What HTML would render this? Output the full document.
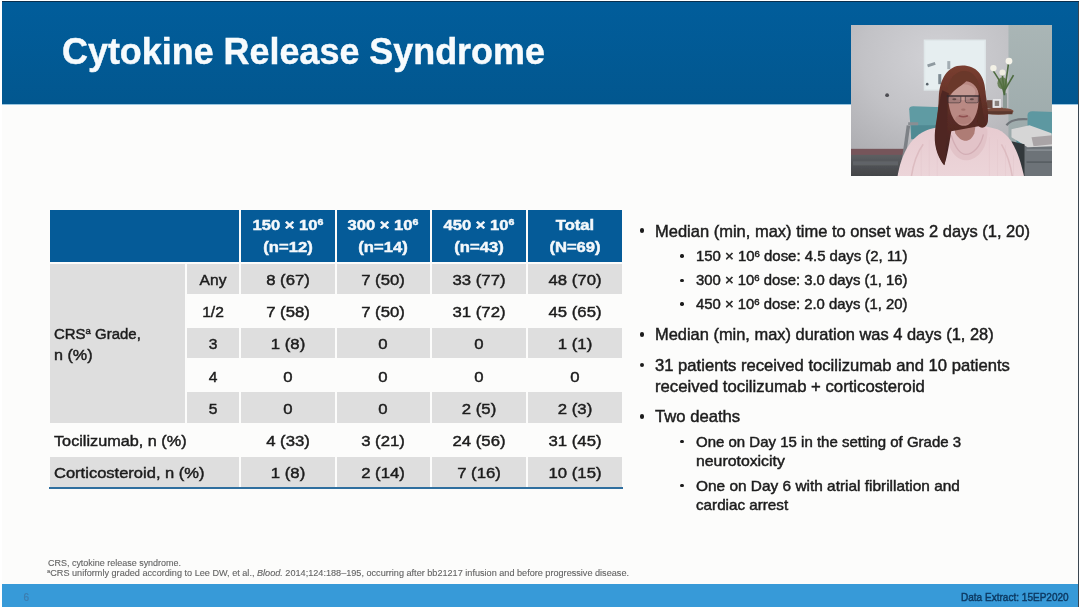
<!DOCTYPE html>
<html lang="en"><head><meta charset="utf-8"><title>Cytokine Release Syndrome</title>
<style>
html,body{margin:0;padding:0;background:#fff;}
body{width:1080px;height:608px;position:relative;overflow:hidden;font-family:"Liberation Sans",sans-serif;}
#slide{position:absolute;left:2px;top:2px;width:1076.5px;height:604.4px;background:#fcfcfb;overflow:hidden;}
#edgeR{position:absolute;left:1077.6px;top:1.5px;width:1.2px;height:605px;background:#3b4650;}
#edgeT{position:absolute;left:2px;top:1.3px;width:1076.5px;height:1.2px;background:#0a2f4d;}
#hdr{position:absolute;left:2px;top:2px;width:1076px;height:102.3px;background:#02599a;background:linear-gradient(#015d9b,#02578f);}
#hdrline{position:absolute;left:2px;top:104.0px;width:1076px;height:1.2px;background:#7fb6d8;opacity:.8}
#bar{position:absolute;left:2px;top:583.7px;width:1076px;height:22.9px;background:#379ad8;}
.t{position:absolute;white-space:nowrap;line-height:1;-webkit-text-stroke:0.45px currentColor;}
#txt{filter:blur(0.45px);}
.t sup{font-size:64%;vertical-align:baseline;position:relative;top:-0.5em;line-height:0;}
.c{position:absolute;}
.dot{position:absolute;border-radius:50%;background:#1c1c1c;}
#vid{position:absolute;left:850.6px;top:24.8px;width:201.6px;height:151.4px;overflow:hidden;}
</style></head><body>
<div id="slide"></div>
<div id="hdr"></div><div id="hdrline"></div>
<div id="bar"></div>
<div id="edgeT"></div><div id="edgeR"></div>
<div id="tbl">
<div class="c" style="left:50px;top:209.5px;width:189.0px;height:52.25px;background:#055b98"></div>
<div class="c" style="left:241.0px;top:209.5px;width:93.5px;height:52.25px;background:#055b98"></div>
<div class="c" style="left:336.5px;top:209.5px;width:93.75px;height:52.25px;background:#055b98"></div>
<div class="c" style="left:432.25px;top:209.5px;width:93.75px;height:52.25px;background:#055b98"></div>
<div class="c" style="left:528.0px;top:209.5px;width:94.0px;height:52.25px;background:#055b98"></div>
<div class="c" style="left:50px;top:263.75px;width:135.0px;height:158.9px;background:#dedede"></div>
<div class="c" style="left:187.0px;top:263.75px;width:52.0px;height:30.18px;background:#dedede"></div>
<div class="c" style="left:241.0px;top:263.75px;width:93.5px;height:30.18px;background:#dedede"></div>
<div class="c" style="left:336.5px;top:263.75px;width:93.75px;height:30.18px;background:#dedede"></div>
<div class="c" style="left:432.25px;top:263.75px;width:93.75px;height:30.18px;background:#dedede"></div>
<div class="c" style="left:528.0px;top:263.75px;width:94.0px;height:30.18px;background:#dedede"></div>
<div class="c" style="left:187.0px;top:328.11px;width:52.0px;height:30.18px;background:#dedede"></div>
<div class="c" style="left:241.0px;top:328.11px;width:93.5px;height:30.18px;background:#dedede"></div>
<div class="c" style="left:336.5px;top:328.11px;width:93.75px;height:30.18px;background:#dedede"></div>
<div class="c" style="left:432.25px;top:328.11px;width:93.75px;height:30.18px;background:#dedede"></div>
<div class="c" style="left:528.0px;top:328.11px;width:94.0px;height:30.18px;background:#dedede"></div>
<div class="c" style="left:187.0px;top:392.47px;width:52.0px;height:30.18px;background:#dedede"></div>
<div class="c" style="left:241.0px;top:392.47px;width:93.5px;height:30.18px;background:#dedede"></div>
<div class="c" style="left:336.5px;top:392.47px;width:93.75px;height:30.18px;background:#dedede"></div>
<div class="c" style="left:432.25px;top:392.47px;width:93.75px;height:30.18px;background:#dedede"></div>
<div class="c" style="left:528.0px;top:392.47px;width:94.0px;height:30.18px;background:#dedede"></div>
<div class="c" style="left:50px;top:456.83px;width:189.0px;height:30.18px;background:#dedede"></div>
<div class="c" style="left:241.0px;top:456.83px;width:93.5px;height:30.18px;background:#dedede"></div>
<div class="c" style="left:336.5px;top:456.83px;width:93.75px;height:30.18px;background:#dedede"></div>
<div class="c" style="left:432.25px;top:456.83px;width:93.75px;height:30.18px;background:#dedede"></div>
<div class="c" style="left:528.0px;top:456.83px;width:94.0px;height:30.18px;background:#dedede"></div>
<div class="c" style="left:49px;top:487.3px;width:574px;height:2.2px;background:#2f6f9f"></div>
</div>
<div class="dot" style="left:639.7px;top:228.29999999999998px;width:4.6px;height:4.6px"></div>
<div class="dot" style="left:639.7px;top:332.0px;width:4.6px;height:4.6px"></div>
<div class="dot" style="left:639.7px;top:362.8px;width:4.6px;height:4.6px"></div>
<div class="dot" style="left:639.7px;top:414.0px;width:4.6px;height:4.6px"></div>
<div class="dot" style="left:680.3px;top:254.3px;width:3.4px;height:3.4px"></div>
<div class="dot" style="left:680.3px;top:278.6px;width:3.4px;height:3.4px"></div>
<div class="dot" style="left:680.3px;top:302.3px;width:3.4px;height:3.4px"></div>
<div class="dot" style="left:680.3px;top:440.1px;width:3.4px;height:3.4px"></div>
<div class="dot" style="left:680.3px;top:483.8px;width:3.4px;height:3.4px"></div>
<div id="vid"><svg width="201.6" height="151.4" viewBox="0 0 201 151" preserveAspectRatio="none">
<defs>
<radialGradient id="wallg" cx="0.55" cy="0.25" r="0.85"><stop offset="0" stop-color="#d2d2d6"/><stop offset="0.55" stop-color="#c2c2c6"/><stop offset="1" stop-color="#adadb1"/></radialGradient>
<linearGradient id="rwall" x1="0" y1="0" x2="0" y2="1"><stop offset="0" stop-color="#aab6b6"/><stop offset="1" stop-color="#9aa8a9"/></linearGradient>
<linearGradient id="floorg" x1="0" y1="0" x2="0" y2="1"><stop offset="0" stop-color="#5d5f62"/><stop offset="1" stop-color="#3e4043"/></linearGradient>
<linearGradient id="hairg" x1="0" y1="0" x2="0" y2="1"><stop offset="0" stop-color="#7a3e30"/><stop offset="0.5" stop-color="#5a2c26"/><stop offset="1" stop-color="#40201e"/></linearGradient>
<linearGradient id="swg" x1="0" y1="0" x2="0" y2="1"><stop offset="0" stop-color="#e7cbd0"/><stop offset="1" stop-color="#ecd5d9"/></linearGradient>
<filter id="vb" x="-5%" y="-5%" width="110%" height="110%"><feGaussianBlur stdDeviation="0.6"/></filter>
</defs>
<rect width="201" height="151" fill="#bcbcc0"/>
<g filter="url(#vb)">
<rect x="-3" y="-3" width="162" height="140" fill="url(#wallg)"/>
<rect x="157" y="-3" width="48" height="140" fill="url(#rwall)"/>
<!-- whiteboard -->
<rect x="72.5" y="14.5" width="62" height="51" fill="#dfe7e9"/>
<rect x="74" y="16" width="59" height="48" fill="#e6eef0"/>
<rect x="76" y="38" width="8" height="3" fill="#8f9aa0" transform="rotate(-18 80 39)"/>
<rect x="87" y="49" width="3" height="10" fill="#7d8a92"/>
<rect x="96" y="36" width="3" height="8" fill="#a3adb3"/>
<circle cx="76" cy="59" r="1.3" fill="#59636a"/>
<!-- wall dot -->
<circle cx="36" cy="70" r="1.9" fill="#4d4d52"/>
<!-- baseboard + floor -->
<rect x="-3" y="123.5" width="70" height="7" fill="#76555a"/>
<rect x="-3" y="129.5" width="80" height="25" fill="url(#floorg)"/>
<rect x="2" y="136" width="45" height="4" fill="#6b6e72" opacity=".6"/>
<!-- left chair -->
<path d="M58 84 Q58 81 62 81 L92 82 L92 113 L60 113 Z" fill="#5f9ba3"/>
<rect x="60" y="100" width="34" height="14" fill="#4f8a93"/>
<rect x="53" y="100" width="3.5" height="36" fill="#7d8186" transform="rotate(8 55 118)"/>
<rect x="57" y="97" width="10" height="3" fill="#8a8e93"/>
<!-- table -->
<ellipse cx="147" cy="86" rx="15" ry="3.6" fill="#7a4c3c"/>
<rect x="133" y="86" width="28" height="3" fill="#5c372d"/>
<!-- photo frame -->
<rect x="135.5" y="75" width="5.5" height="8" fill="#6a4a40"/>
<rect x="141.5" y="73.8" width="8" height="8.8" fill="#e6e6e8"/><rect x="143.3" y="75.6" width="4.4" height="5.2" fill="#8a827e"/>
<!-- vase + flowers -->
<rect x="151.5" y="68" width="4" height="15" fill="#8d9a96"/>
<path d="M153 70 C151 58 146 52 142 46 M153 70 C154 56 156 48 157 38 M153 68 C152 58 151 54 151 49 M153 66 C157 58 160 54 162 50" stroke="#4e6b40" stroke-width="1.6" fill="none"/>
<ellipse cx="151" cy="58" rx="5" ry="6" fill="#54703f" opacity=".8"/>
<circle cx="142" cy="43" r="3.2" fill="#f3f1e6"/><circle cx="157.5" cy="36" r="3.4" fill="#f6f4ea"/><circle cx="151" cy="47.5" r="3" fill="#efede0"/>
<!-- right chair -->
<path d="M176 90 Q176 86 181 86 L205 87 L205 112 L176 112 Z" fill="#5d98a1"/>
<path d="M155 100 Q160 93 176 94" stroke="#70757a" stroke-width="2.2" fill="none"/>
<rect x="165" y="112" width="12" height="10" fill="#4c8791"/>
<!-- cabinet + papers -->
<rect x="172" y="117" width="33" height="38" fill="#6d7378"/>
<rect x="175" y="124" width="28" height="1.5" fill="#8a9095"/><rect x="175" y="136" width="28" height="1.5" fill="#555b60"/>
<path d="M160 104 L178 100 L200 108 L201 121 L176 122 L160 112 Z" fill="#d6d6d6"/>
<path d="M180 112 L201 110 L201 119 L182 121 Z" fill="#a9a4a6"/>
<!-- dark gap by cabinet -->
<path d="M160 116 L173 119 L173 153 L166 153 Z" fill="#33373b"/>
<!-- sweater -->
<path d="M46 153 C50 128 60 108 82 103 L98 99.5 L128 99.5 L146 104 C161 110 168 130 173 153 Z" fill="url(#swg)"/>
<!-- ribbing hint -->
<g stroke="#dcbcc2" stroke-width="0.5" opacity=".55"><path d="M70 122v30M78 114v38M86 110v42M138 112v40M146 114v38M154 120v32M162 130v22"/></g>
<!-- cowl collar -->
<path d="M96 104 C95 118 101 134 114 135 C128 135 137 120 136 104 L128 99 L100 99 Z" fill="#e2c3c8"/>
<path d="M100 110 C104 124 110 129 114.5 129 C121 129 129 122 132 109" stroke="#d3aeb5" stroke-width="1.3" fill="none"/>
<path d="M60 152 C62 139 66 127 72 119" stroke="#d9b6bc" stroke-width="1.5" fill="none" opacity=".8"/>
<path d="M161 152 C159 139 155 127 150 119" stroke="#d9b6bc" stroke-width="1.5" fill="none" opacity=".8"/>
<!-- neck -->
<path d="M101 95 L125 95 L123 108 C119 118 110 118 104 108 Z" fill="#ae7b74"/>
<!-- hair back -->
<path d="M111 40.5 C96 40.5 88.5 54 87.5 72 C87 90 84 98 83.5 110 C83 124 88 134 93 140 C96 131 98 118 100 106 L127 101 C131 104 135.5 102 136.5 96 C137.5 84 135 76 134 66 C133 50 125 40.5 111 40.5 Z" fill="url(#hairg)"/>
<!-- face -->
<path d="M97 72 C97 60 104 55 112 55 C121 55 127.5 60 127.5 72 C127.5 86 122 100.5 112.5 100.5 C103 100.5 97 86 97 72 Z" fill="#b98983"/>
<ellipse cx="112" cy="67" rx="12" ry="8" fill="#c59a93"/>
<ellipse cx="112" cy="94" rx="8" ry="5" fill="#b07e78"/>
<!-- fringe / part -->
<path d="M95 76 C95 56 103 46 113 46 C122 46 129 54 129.5 74 C127 63 122 56.5 115 56 C109 62 101 64 95 76 Z" fill="#6b372b"/>
<!-- hair side strands -->
<path d="M97.5 68 C95.5 84 97 100 95 116 C94 127 95 134 93 140 C86.5 131 83 119 84.5 107 C86 93 87 78 91 65 Z" fill="#4f2822"/>
<path d="M127.5 66 C131 77 130.5 90 135 99 C131 103 126.5 100 125.5 96 C127.5 86 127.5 76 127.5 66 Z" fill="#532920"/>
<!-- glasses -->
<rect x="96.5" y="70.5" width="13" height="6.6" rx="2" fill="#6b5a60" opacity=".28"/><rect x="114" y="70.5" width="13" height="6.6" rx="2" fill="#6b5a60" opacity=".28"/>
<path d="M95.5 70.8 H128" stroke="#33282c" stroke-width="1.5" opacity=".9"/>
<path d="M96.5 71 v5 q0 1.6 2 1.6 h9 q2 0 2-1.6 v-5 M114 71 v5 q0 1.6 2 1.6 h9 q2 0 2-1.6 v-5" stroke="#3a2f33" stroke-width="0.8" fill="none" opacity=".8"/>
<!-- eyes, nose, mouth -->
<ellipse cx="103" cy="74" rx="2" ry="1" fill="#4a3634" opacity=".7"/><ellipse cx="120.5" cy="74" rx="2" ry="1" fill="#4a3634" opacity=".7"/>
<ellipse cx="112" cy="84.5" rx="2.2" ry="1.1" fill="#a4726c"/>
<path d="M107.5 90.5 Q112 92.6 116.5 90.5" stroke="#8f4f50" stroke-width="1.5" fill="none"/>
</g>
</svg>
</div>
<div id="txt">
<div class="t" id="title" style="left:62.11px;transform-origin:0 50%;top:33.77px;font-size:36.3px;font-weight:700;color:#f7fbfd;transform:scaleX(0.9892);">Cytokine Release Syndrome</div>
<div class="t" id="h0a" style="left:287.75px;transform-origin:50% 50%;top:217.84px;font-size:14.6px;font-weight:700;color:#f4f8fb;transform:translateX(-50%) scaleX(1.1371);">150 × 10<sup>6</sup></div>
<div class="t" id="h0b" style="left:287.75px;transform-origin:50% 50%;top:239.64px;font-size:14.6px;font-weight:700;color:#f4f8fb;transform:translateX(-50%) scaleX(1.1371);">(n=12)</div>
<div class="t" id="h1a" style="left:383.38px;transform-origin:50% 50%;top:217.84px;font-size:14.6px;font-weight:700;color:#f4f8fb;transform:translateX(-50%) scaleX(1.1371);">300 × 10<sup>6</sup></div>
<div class="t" id="h1b" style="left:383.38px;transform-origin:50% 50%;top:239.64px;font-size:14.6px;font-weight:700;color:#f4f8fb;transform:translateX(-50%) scaleX(1.1371);">(n=14)</div>
<div class="t" id="h2a" style="left:479.12px;transform-origin:50% 50%;top:217.84px;font-size:14.6px;font-weight:700;color:#f4f8fb;transform:translateX(-50%) scaleX(1.1371);">450 × 10<sup>6</sup></div>
<div class="t" id="h2b" style="left:479.12px;transform-origin:50% 50%;top:239.64px;font-size:14.6px;font-weight:700;color:#f4f8fb;transform:translateX(-50%) scaleX(1.1371);">(n=43)</div>
<div class="t" id="h3a" style="left:574.50px;transform-origin:50% 50%;top:217.84px;font-size:14.6px;font-weight:700;color:#f4f8fb;transform:translateX(-50%) scaleX(1.1371);">Total</div>
<div class="t" id="h3b" style="left:574.50px;transform-origin:50% 50%;top:239.64px;font-size:14.6px;font-weight:700;color:#f4f8fb;transform:translateX(-50%) scaleX(1.1371);">(N=69)</div>
<div class="t" id="l0" style="left:213.00px;transform-origin:50% 50%;top:271.96px;font-size:15.4px;font-weight:400;color:#1c1c1c;transform:translateX(-50%) scaleX(1.0128);">Any</div>
<div class="t" id="c0_0" style="left:287.75px;transform-origin:50% 50%;top:271.96px;font-size:15.4px;font-weight:400;color:#1c1c1c;transform:translateX(-50%) scaleX(1.0878);">8 (67)</div>
<div class="t" id="c0_1" style="left:383.38px;transform-origin:50% 50%;top:271.96px;font-size:15.4px;font-weight:400;color:#1c1c1c;transform:translateX(-50%) scaleX(1.0878);">7 (50)</div>
<div class="t" id="c0_2" style="left:479.12px;transform-origin:50% 50%;top:271.96px;font-size:15.4px;font-weight:400;color:#1c1c1c;transform:translateX(-50%) scaleX(1.0878);">33 (77)</div>
<div class="t" id="c0_3" style="left:574.50px;transform-origin:50% 50%;top:271.96px;font-size:15.4px;font-weight:400;color:#1c1c1c;transform:translateX(-50%) scaleX(1.0878);">48 (70)</div>
<div class="t" id="l1" style="left:213.00px;transform-origin:50% 50%;top:304.16px;font-size:15.4px;font-weight:400;color:#1c1c1c;transform:translateX(-50%) scaleX(1.0128);">1/2</div>
<div class="t" id="c1_0" style="left:287.75px;transform-origin:50% 50%;top:304.16px;font-size:15.4px;font-weight:400;color:#1c1c1c;transform:translateX(-50%) scaleX(1.0878);">7 (58)</div>
<div class="t" id="c1_1" style="left:383.38px;transform-origin:50% 50%;top:304.16px;font-size:15.4px;font-weight:400;color:#1c1c1c;transform:translateX(-50%) scaleX(1.0878);">7 (50)</div>
<div class="t" id="c1_2" style="left:479.12px;transform-origin:50% 50%;top:304.16px;font-size:15.4px;font-weight:400;color:#1c1c1c;transform:translateX(-50%) scaleX(1.0878);">31 (72)</div>
<div class="t" id="c1_3" style="left:574.50px;transform-origin:50% 50%;top:304.16px;font-size:15.4px;font-weight:400;color:#1c1c1c;transform:translateX(-50%) scaleX(1.0878);">45 (65)</div>
<div class="t" id="l2" style="left:213.00px;transform-origin:50% 50%;top:336.36px;font-size:15.4px;font-weight:400;color:#1c1c1c;transform:translateX(-50%) scaleX(1.0128);">3</div>
<div class="t" id="c2_0" style="left:287.75px;transform-origin:50% 50%;top:336.36px;font-size:15.4px;font-weight:400;color:#1c1c1c;transform:translateX(-50%) scaleX(1.0878);">1 (8)</div>
<div class="t" id="c2_1" style="left:383.38px;transform-origin:50% 50%;top:336.36px;font-size:15.4px;font-weight:400;color:#1c1c1c;transform:translateX(-50%) scaleX(1.0878);">0</div>
<div class="t" id="c2_2" style="left:479.12px;transform-origin:50% 50%;top:336.36px;font-size:15.4px;font-weight:400;color:#1c1c1c;transform:translateX(-50%) scaleX(1.0878);">0</div>
<div class="t" id="c2_3" style="left:574.50px;transform-origin:50% 50%;top:336.36px;font-size:15.4px;font-weight:400;color:#1c1c1c;transform:translateX(-50%) scaleX(1.0878);">1 (1)</div>
<div class="t" id="l3" style="left:213.00px;transform-origin:50% 50%;top:368.56px;font-size:15.4px;font-weight:400;color:#1c1c1c;transform:translateX(-50%) scaleX(1.0128);">4</div>
<div class="t" id="c3_0" style="left:287.75px;transform-origin:50% 50%;top:368.56px;font-size:15.4px;font-weight:400;color:#1c1c1c;transform:translateX(-50%) scaleX(1.0878);">0</div>
<div class="t" id="c3_1" style="left:383.38px;transform-origin:50% 50%;top:368.56px;font-size:15.4px;font-weight:400;color:#1c1c1c;transform:translateX(-50%) scaleX(1.0878);">0</div>
<div class="t" id="c3_2" style="left:479.12px;transform-origin:50% 50%;top:368.56px;font-size:15.4px;font-weight:400;color:#1c1c1c;transform:translateX(-50%) scaleX(1.0878);">0</div>
<div class="t" id="c3_3" style="left:574.50px;transform-origin:50% 50%;top:368.56px;font-size:15.4px;font-weight:400;color:#1c1c1c;transform:translateX(-50%) scaleX(1.0878);">0</div>
<div class="t" id="l4" style="left:213.00px;transform-origin:50% 50%;top:400.76px;font-size:15.4px;font-weight:400;color:#1c1c1c;transform:translateX(-50%) scaleX(1.0128);">5</div>
<div class="t" id="c4_0" style="left:287.75px;transform-origin:50% 50%;top:400.76px;font-size:15.4px;font-weight:400;color:#1c1c1c;transform:translateX(-50%) scaleX(1.0878);">0</div>
<div class="t" id="c4_1" style="left:383.38px;transform-origin:50% 50%;top:400.76px;font-size:15.4px;font-weight:400;color:#1c1c1c;transform:translateX(-50%) scaleX(1.0878);">0</div>
<div class="t" id="c4_2" style="left:479.12px;transform-origin:50% 50%;top:400.76px;font-size:15.4px;font-weight:400;color:#1c1c1c;transform:translateX(-50%) scaleX(1.0878);">2 (5)</div>
<div class="t" id="c4_3" style="left:574.50px;transform-origin:50% 50%;top:400.76px;font-size:15.4px;font-weight:400;color:#1c1c1c;transform:translateX(-50%) scaleX(1.0878);">2 (3)</div>
<div class="t" id="c5_0" style="left:287.75px;transform-origin:50% 50%;top:432.96px;font-size:15.4px;font-weight:400;color:#1c1c1c;transform:translateX(-50%) scaleX(1.0878);">4 (33)</div>
<div class="t" id="c5_1" style="left:383.38px;transform-origin:50% 50%;top:432.96px;font-size:15.4px;font-weight:400;color:#1c1c1c;transform:translateX(-50%) scaleX(1.0878);">3 (21)</div>
<div class="t" id="c5_2" style="left:479.12px;transform-origin:50% 50%;top:432.96px;font-size:15.4px;font-weight:400;color:#1c1c1c;transform:translateX(-50%) scaleX(1.0878);">24 (56)</div>
<div class="t" id="c5_3" style="left:574.50px;transform-origin:50% 50%;top:432.96px;font-size:15.4px;font-weight:400;color:#1c1c1c;transform:translateX(-50%) scaleX(1.0878);">31 (45)</div>
<div class="t" id="c6_0" style="left:287.75px;transform-origin:50% 50%;top:465.16px;font-size:15.4px;font-weight:400;color:#1c1c1c;transform:translateX(-50%) scaleX(1.0878);">1 (8)</div>
<div class="t" id="c6_1" style="left:383.38px;transform-origin:50% 50%;top:465.16px;font-size:15.4px;font-weight:400;color:#1c1c1c;transform:translateX(-50%) scaleX(1.0878);">2 (14)</div>
<div class="t" id="c6_2" style="left:479.12px;transform-origin:50% 50%;top:465.16px;font-size:15.4px;font-weight:400;color:#1c1c1c;transform:translateX(-50%) scaleX(1.0878);">7 (16)</div>
<div class="t" id="c6_3" style="left:574.50px;transform-origin:50% 50%;top:465.16px;font-size:15.4px;font-weight:400;color:#1c1c1c;transform:translateX(-50%) scaleX(1.0878);">10 (15)</div>
<div class="t" id="crs1" style="left:54.19px;transform-origin:0 50%;top:325.71px;font-size:15.4px;font-weight:400;color:#1c1c1c;transform:scaleX(0.9720);">CRS<sup>a</sup> Grade,</div>
<div class="t" id="crs2" style="left:54.19px;transform-origin:0 50%;top:346.96px;font-size:15.4px;font-weight:400;color:#1c1c1c;transform:scaleX(1.0484);">n (%)</div>
<div class="t" id="toci" style="left:54.19px;transform-origin:0 50%;top:433.21px;font-size:15.4px;font-weight:400;color:#1c1c1c;transform:scaleX(1.0543);">Tocilizumab, n (%)</div>
<div class="t" id="cort" style="left:54.19px;transform-origin:0 50%;top:465.21px;font-size:15.4px;font-weight:400;color:#1c1c1c;transform:scaleX(1.0733);">Corticosteroid, n (%)</div>
<div class="t" id="b1" style="left:654.87px;transform-origin:0 50%;top:222.54px;font-size:16.2px;font-weight:400;color:#1c1c1c;transform:scaleX(1.0189);">Median (min, max) time to onset was 2 days (1, 20)</div>
<div class="t" id="b1a" style="left:695.79px;transform-origin:0 50%;top:249.23px;font-size:14.2px;font-weight:400;color:#1c1c1c;transform:scaleX(1.0526);">150 × 10<sup>6</sup> dose: 4.5 days (2, 11)</div>
<div class="t" id="b1b" style="left:695.79px;transform-origin:0 50%;top:273.48px;font-size:14.2px;font-weight:400;color:#1c1c1c;transform:scaleX(1.0472);">300 × 10<sup>6</sup> dose: 3.0 days (1, 16)</div>
<div class="t" id="b1c" style="left:695.79px;transform-origin:0 50%;top:297.23px;font-size:14.2px;font-weight:400;color:#1c1c1c;transform:scaleX(1.0472);">450 × 10<sup>6</sup> dose: 2.0 days (1, 20)</div>
<div class="t" id="b2" style="left:654.87px;transform-origin:0 50%;top:326.29px;font-size:16.2px;font-weight:400;color:#1c1c1c;transform:scaleX(1.0147);">Median (min, max) duration was 4 days (1, 28)</div>
<div class="t" id="b3" style="left:654.87px;transform-origin:0 50%;top:357.04px;font-size:16.2px;font-weight:400;color:#1c1c1c;transform:scaleX(1.0271);">31 patients received tocilizumab and 10 patients</div>
<div class="t" id="b3b" style="left:654.87px;transform-origin:0 50%;top:378.29px;font-size:16.2px;font-weight:400;color:#1c1c1c;transform:scaleX(1.0327);">received tocilizumab + corticosteroid</div>
<div class="t" id="b4" style="left:655.12px;transform-origin:0 50%;top:408.29px;font-size:16.2px;font-weight:400;color:#1c1c1c;transform:scaleX(1.0288);">Two deaths</div>
<div class="t" id="b4a" style="left:695.79px;transform-origin:0 50%;top:434.98px;font-size:14.2px;font-weight:400;color:#1c1c1c;transform:scaleX(1.0571);">One on Day 15 in the setting of Grade 3</div>
<div class="t" id="b4b" style="left:695.79px;transform-origin:0 50%;top:453.98px;font-size:14.2px;font-weight:400;color:#1c1c1c;transform:scaleX(1.1158);">neurotoxicity</div>
<div class="t" id="b4c" style="left:695.79px;transform-origin:0 50%;top:478.73px;font-size:14.2px;font-weight:400;color:#1c1c1c;transform:scaleX(1.0863);">One on Day 6 with atrial fibrillation and</div>
<div class="t" id="b4d" style="left:695.79px;transform-origin:0 50%;top:497.98px;font-size:14.2px;font-weight:400;color:#1c1c1c;transform:scaleX(1.0719);">cardiac arrest</div>
<div class="t" id="f1" style="left:47.54px;transform-origin:0 50%;top:558.89px;font-size:8.4px;font-weight:400;color:#636363;transform:scaleX(1.0702);-webkit-text-stroke:0.1px currentColor;">CRS, cytokine release syndrome.</div>
<div class="t" id="f2" style="left:47.29px;transform-origin:0 50%;top:568.89px;font-size:8.4px;font-weight:400;color:#636363;transform:scaleX(1.0885);-webkit-text-stroke:0.1px currentColor;"><sup>a</sup>CRS uniformly graded according to Lee DW, et al., <i>Blood.</i> 2014;124:188–195, occurring after bb21217 infusion and before progressive disease.</div>
<div class="t" id="de" style="left:961.05px;transform-origin:0 50%;top:591.92px;font-size:11.2px;font-weight:400;color:#0d3a63;transform:scaleX(0.8971);">Data Extract: 15EP2020</div>
<div class="t" id="pg" style="left:23.45px;transform-origin:0 50%;top:592.53px;font-size:10px;font-weight:400;color:#3d7cae;transform:scaleX(1.0000);-webkit-text-stroke:0.2px currentColor;">6</div>
</div>
</body></html>
